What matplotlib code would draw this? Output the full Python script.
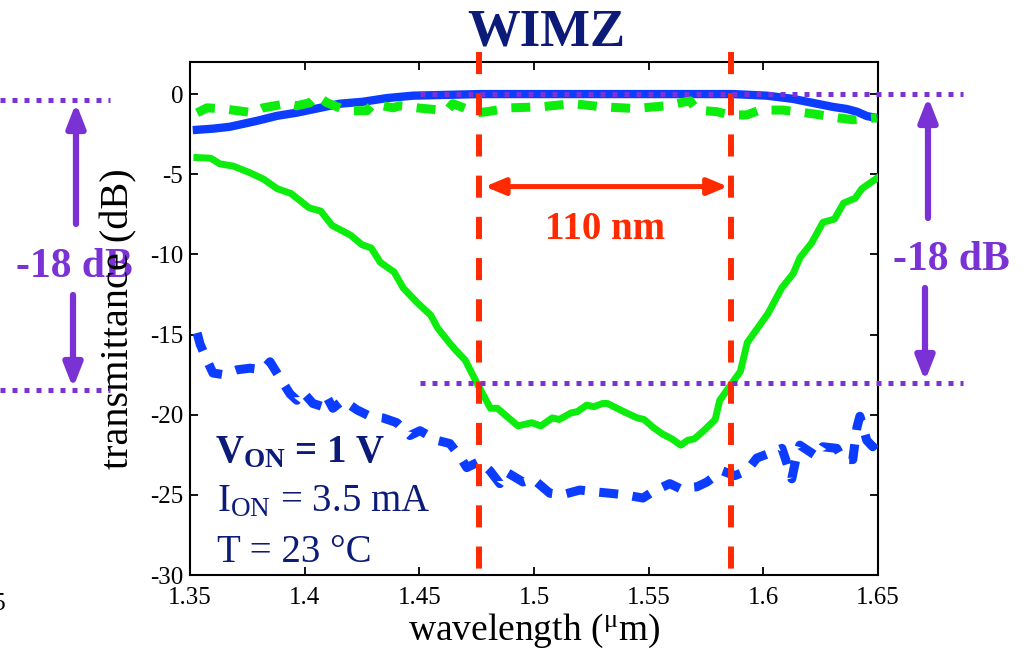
import matplotlib
matplotlib.use("Agg")
import matplotlib.pyplot as plt
from matplotlib.lines import Line2D
from matplotlib.patches import FancyArrowPatch

plt.rcParams['font.family'] = ['Liberation Serif', 'DejaVu Serif']
plt.rcParams['mathtext.fontset'] = 'custom'
plt.rcParams['mathtext.rm'] = 'Liberation Serif'
plt.rcParams['mathtext.bf'] = 'Liberation Serif:bold'
plt.rcParams['mathtext.it'] = 'Liberation Serif:italic'

# ---- measured spectra (wavelength in um, transmittance in dB) ----
bar_on_wl = [1.353, 1.360, 1.3674, 1.3792, 1.3879, 1.3966, 1.4067, 1.4154, 1.4254,
             1.4359, 1.4472, 1.462, 1.4764, 1.50, 1.53, 1.56, 1.5867, 1.6015,
             1.6129, 1.6233, 1.6303, 1.6364, 1.6408, 1.6451, 1.6495]
bar_on_db = [-2.23, -2.16, -2.04, -1.67, -1.36, -1.16, -0.86, -0.6, -0.48,
             -0.25, -0.1, -0.05, 0.0, 0.0, 0.0, 0.0, 0.0, -0.1,
             -0.3, -0.6, -0.8, -0.93, -1.1, -1.37, -1.5]

cross_on_wl = [1.3531, 1.3574, 1.3644, 1.3775, 1.3818, 1.3923, 1.3966, 1.4023, 1.4054,
               1.4097, 1.4184, 1.4272, 1.4298, 1.4385, 1.4415, 1.449, 1.462, 1.4646,
               1.4751, 1.4795, 1.4895, 1.5026, 1.5170, 1.5300, 1.5440, 1.5579, 1.5680,
               1.5710, 1.5797, 1.5854, 1.5928, 1.5985, 1.6085, 1.6216, 1.6334, 1.6390,
               1.6495]
cross_on_db = [-1.17, -0.86, -0.92, -1.16, -0.86, -0.6, -0.73, -0.54, -0.1,
               -0.54, -1.04, -1.04, -0.6, -0.86, -0.73, -0.86, -1.04, -0.6,
               -1.17, -1.1, -0.86, -0.8, -0.6, -0.8, -0.9, -0.73, -0.42,
               -1.0, -1.1, -1.3, -1.3, -1.0, -1.0, -1.23, -1.5, -1.6,
               -1.48]

bar_off_wl = [1.353, 1.359, 1.363, 1.369, 1.376, 1.382, 1.388, 1.394, 1.402, 1.407,
              1.412, 1.420, 1.425, 1.429, 1.433, 1.439, 1.443, 1.449, 1.455, 1.458,
              1.463, 1.466, 1.470, 1.475, 1.481, 1.484, 1.493, 1.499, 1.503, 1.508,
              1.511, 1.516, 1.519, 1.523, 1.526, 1.530, 1.532, 1.539, 1.545, 1.548,
              1.552, 1.556, 1.560, 1.564, 1.567, 1.570, 1.574, 1.579, 1.581, 1.585,
              1.590, 1.593, 1.602, 1.608, 1.613, 1.616, 1.621, 1.626, 1.631, 1.635,
              1.640, 1.643, 1.650]
bar_off_db = [-3.96, -4.0, -4.35, -4.5, -4.9, -5.3, -5.9, -6.2, -7.1, -7.3,
              -8.2, -8.8, -9.4, -9.6, -10.5, -11.1, -12.1, -13.0, -13.8, -14.6,
              -15.5, -16.0, -16.6, -18.0, -19.6, -19.6, -20.7, -20.5, -20.7, -20.2,
              -20.3, -19.9, -19.8, -19.4, -19.5, -19.3, -19.3, -19.8, -20.2, -20.3,
              -20.8, -21.2, -21.5, -21.9, -21.6, -21.5, -21.0, -20.3, -19.1, -18.3,
              -17.3, -15.5, -13.7, -12.1, -11.2, -10.2, -9.3, -8.0, -7.8, -6.8,
              -6.5, -5.9, -5.2]

cross_off_wl = [1.3531, 1.3544, 1.3574, 1.3600, 1.3644, 1.3705, 1.3762, 1.3818, 1.3849,
                1.3892, 1.3936, 1.3966, 1.3993, 1.4036, 1.4080, 1.4097, 1.4123, 1.4167,
                1.4228, 1.4285, 1.4341, 1.4402, 1.4459, 1.4503, 1.4577, 1.4633, 1.4677,
                1.4707, 1.4764, 1.4808, 1.4851, 1.4882, 1.4952, 1.4995, 1.5069, 1.5122,
                1.5200, 1.5257, 1.5331, 1.5396, 1.5475, 1.5518, 1.5592, 1.5636, 1.5710,
                1.5754, 1.5820, 1.5876, 1.5928, 1.5972, 1.6028, 1.6081, 1.6102, 1.6124,
                1.6146, 1.6159, 1.6233, 1.6259, 1.6320, 1.6347, 1.6390, 1.6408, 1.6421,
                1.6451, 1.6477, 1.6495]
cross_off_db = [-14.9, -15.6, -16.6, -17.4, -17.5, -17.2, -17.1, -17.2, -16.7,
                -17.7, -18.7, -19.1, -18.6, -19.3, -19.5, -18.9, -19.6, -19.1,
                -19.7, -20.1, -20.2, -20.5, -21.3, -21.0, -21.6, -21.8, -22.6,
                -23.3, -22.9, -23.5, -24.3, -23.6, -24.2, -24.0, -24.9, -25.0,
                -24.7, -24.8, -24.9, -25.0, -25.2, -24.8, -24.3, -24.6, -24.5,
                -24.2, -23.5, -23.8, -23.5, -22.7, -22.4, -22.1, -23.0, -24.0,
                -22.5, -21.9, -22.6, -22.0, -22.1, -22.8, -22.8, -20.8, -20.1,
                -21.6, -22.0, -21.6]

# band edges (um) and extinction level (dB)
band_edges = [1.476, 1.586]
band_label = "110 nm"
extinction_db = -18
extinction_label = "-18 dB"

x_ticks = [1.35, 1.40, 1.45, 1.50, 1.55, 1.60, 1.65]
x_tick_labels = ["1.35", "1.4", "1.45", "1.5", "1.55", "1.6", "1.65"]
y_ticks = [-30, -25, -20, -15, -10, -5, 0]
y_tick_labels = ["-30", "-25", "-20", "-15", "-10", "-5", "0"]

BLUE = "#0b3cff"
GREEN = "#0ded0d"
RED = "#ff2a00"
PURPLE = "#7a32d4"
NAVY = "#0c1a78"

W, H = 1028, 654
fig = plt.figure(figsize=(W / 100, H / 100), dpi=100)
ax = fig.add_axes([190 / W, 1 - 575 / H, 688 / W, 513 / H])


def fx(px):
    return px / W


def fy(py):
    return 1 - py / H


# spectra
ax.plot(bar_on_wl, bar_on_db, color=BLUE, lw=6, zorder=3, solid_joinstyle='round')
ax.plot(cross_on_wl, cross_on_db, color=GREEN, lw=6.5, dashes=(2.1, 1.6), zorder=3)
ax.plot(bar_off_wl, bar_off_db, color=GREEN, lw=5, zorder=3, solid_joinstyle='round')
ax.plot(cross_off_wl, cross_off_db, color=BLUE, lw=6.5, dashes=(2.1, 1.6), zorder=3)

# band edges
for xe in band_edges:
    ax.plot([xe, xe], [2.6, -30.2], color=RED, lw=4.3, dashes=(3.7, 3.2),
            clip_on=False, zorder=4)

# bandwidth arrow
arr_y = -5.77
ax.add_patch(FancyArrowPatch((band_edges[0] + 0.0026, arr_y), (band_edges[1] - 0.0015, arr_y),
                             arrowstyle='<|-|>,head_length=1.2,head_width=0.5',
                             mutation_scale=10, color=RED, lw=3.6,
                             shrinkA=0, shrinkB=0, zorder=5))
ax.text(sum(band_edges) / 2, -9.07, band_label, ha='center', va='baseline',
        fontsize=28, fontweight='bold', color=RED, zorder=5)

# extinction level guides (right)
for yv in (0, extinction_db):
    ax.plot([1.4503, 1.687], [yv, yv], color=PURPLE, lw=3.6, dashes=(1, 1.4),
            clip_on=False, zorder=6, dash_capstyle='butt')

ax.add_patch(FancyArrowPatch((fx(928), fy(218)), (fx(928), fy(97)),
                             transform=fig.transFigure,
                             arrowstyle='-|>,head_length=1.4,head_width=0.55',
                             mutation_scale=10, color=PURPLE, lw=4.5,
                             shrinkA=0, shrinkB=0, clip_on=False, zorder=6))
ax.add_patch(FancyArrowPatch((fx(925), fy(288)), (fx(925), fy(381)),
                             transform=fig.transFigure,
                             arrowstyle='-|>,head_length=1.4,head_width=0.55',
                             mutation_scale=10, color=PURPLE, lw=4.5,
                             shrinkA=0, shrinkB=0, clip_on=False, zorder=6))
ax.text(fx(951), fy(270), extinction_label, transform=fig.transFigure,
        ha='center', va='baseline', fontsize=30, fontweight='bold',
        color=PURPLE, clip_on=False, zorder=6)

# extinction level guides (left)
for py in (100, 390):
    fig.add_artist(Line2D([fx(0), fx(110)], [fy(py), fy(py)], transform=fig.transFigure,
                          color=PURPLE, lw=3.6, dashes=(1, 1.4), dash_capstyle='butt'))
ax.add_patch(FancyArrowPatch((fx(76), fy(224)), (fx(76), fy(103)),
                             transform=fig.transFigure,
                             arrowstyle='-|>,head_length=1.4,head_width=0.55',
                             mutation_scale=10, color=PURPLE, lw=4.5,
                             shrinkA=0, shrinkB=0, clip_on=False, zorder=1))
ax.add_patch(FancyArrowPatch((fx(73), fy(295)), (fx(73), fy(388)),
                             transform=fig.transFigure,
                             arrowstyle='-|>,head_length=1.4,head_width=0.55',
                             mutation_scale=10, color=PURPLE, lw=4.5,
                             shrinkA=0, shrinkB=0, clip_on=False, zorder=1))
ax.text(fx(74), fy(277), extinction_label, transform=fig.transFigure,
        ha='center', va='baseline', fontsize=30, fontweight='bold',
        color=PURPLE, clip_on=False, zorder=1)

# operating conditions
ax.text(fx(215), fy(462), r"V$_{\mathbf{ON}}$ = 1 V", transform=fig.transFigure,
        ha='left', va='baseline', fontsize=28, fontweight='bold', color=NAVY, zorder=6)
ax.text(fx(217), fy(511), r"I$_{\mathrm{ON}}$ = 3.5 mA", transform=fig.transFigure,
        ha='left', va='baseline', fontsize=28, color=NAVY, zorder=6)
ax.text(fx(217), fy(562), "T = 23 °C", transform=fig.transFigure,
        ha='left', va='baseline', fontsize=28, color=NAVY, zorder=6)

# axes styling
ax.set_xlim(1.35, 1.65)
ax.set_ylim(-30, 2)
ax.set_xticks(x_ticks)
ax.set_xticklabels(x_tick_labels)
ax.set_yticks(y_ticks)
ax.set_yticklabels(y_tick_labels)
ax.tick_params(direction='in', top=True, right=True, length=6, width=1.3,
               labelsize=18, colors='black')
ax.tick_params(axis='x', pad=9)
ax.tick_params(axis='y', pad=5)
for sp in ax.spines.values():
    sp.set_linewidth(1.5)

ax.set_xlabel(r"wavelength ($^{\mathrm{μ}}$m)", fontsize=27)
ax.set_ylabel("transmittance (dB)", fontsize=29)
ax.xaxis.set_label_coords(0.5, -0.072)
ax.yaxis.set_label_coords(-0.077, 0.5)

fig.text(fx(546), fy(46), "WIMZ", ha='center', va='baseline', fontsize=38,
         fontweight='bold', color=NAVY)

# tick label of the neighbouring panel, cut at the figure edge
fig.text(fx(7), fy(610), "1.65", ha='right', va='baseline', fontsize=18)

fig.savefig("out.png", dpi=100)
